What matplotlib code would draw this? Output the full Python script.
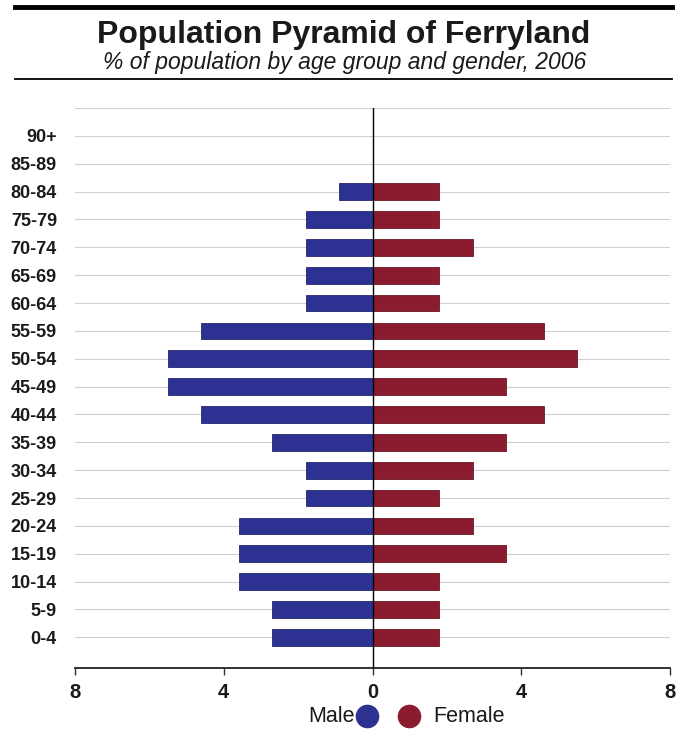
import matplotlib
matplotlib.use("Agg")
import matplotlib.pyplot as plt
from matplotlib.lines import Line2D
import numpy as np

plt.rcParams['font.family'] = ['Liberation Sans', 'DejaVu Sans']

age_groups = ["0-4", "5-9", "10-14", "15-19", "20-24", "25-29", "30-34", "35-39",
              "40-44", "45-49", "50-54", "55-59", "60-64", "65-69", "70-74",
              "75-79", "80-84", "85-89", "90+"]
male = [2.7, 2.7, 3.6, 3.6, 3.6, 1.8, 1.8, 2.7, 4.6, 5.5, 5.5, 4.6, 1.8, 1.8, 1.8, 1.8, 0.9, 0, 0]
female = [1.8, 1.8, 1.8, 3.6, 2.7, 1.8, 2.7, 3.6, 4.6, 3.6, 5.5, 4.6, 1.8, 1.8, 2.7, 1.8, 1.8, 0, 0]
x_ticks = [-8, -4, 0, 4, 8]
x_tick_labels = ["8", "4", "0", "4", "8"]

title = "Population Pyramid of Ferryland"
subtitle = "% of population by age group and gender, 2006"

blue = "#2d3191"
red = "#8b1c2f"

W, H = 683, 731
fig = plt.figure(figsize=(W / 100, H / 100), dpi=100)
fig.patch.set_facecolor("white")

ax = fig.add_axes([75 / W, 1 - 668 / H, (670 - 75) / W, (668 - 108) / H])
y = np.arange(len(age_groups))

# gridlines
for yy in list(y) + [len(age_groups)]:
    ax.axhline(yy, color="#cfcfcf", lw=0.8, zorder=0)

ax.barh(y, [-v for v in male], height=0.6, color=blue, edgecolor="#23266e", linewidth=0.6, zorder=2)
ax.barh(y, female, height=0.6, color=red, edgecolor="#6e1422", linewidth=0.6, zorder=2)
ax.axvline(0, color="black", lw=1.0, zorder=3)

ax.set_xlim(-8, 8)
ax.set_ylim(-1.1, len(age_groups))
ax.set_yticks(y)
ax.set_yticklabels(age_groups, fontsize=13, fontweight="bold", color="#1a1a1a")
ax.tick_params(axis="y", length=0, pad=13)
ax.set_xticks(x_ticks)
ax.set_xticklabels(x_tick_labels, fontsize=14.5, fontweight="bold", color="#1a1a1a")
ax.tick_params(axis="x", length=5, width=1, direction="out", pad=6, color="#333333")
for s in ["top", "right", "left"]:
    ax.spines[s].set_visible(False)
ax.spines["bottom"].set_color("#222222")
ax.spines["bottom"].set_linewidth(1.3)

# title block
fig.add_artist(Line2D([15 / W, 672 / W], [1 - 7 / H, 1 - 7 / H], color="black", lw=3.5))
fig.text(344 / W, 1 - 35 / H, title, ha="center", va="center", fontsize=23, fontweight="bold", color="#1a1a1a")
fig.text(345 / W, 1 - 63 / H, subtitle, ha="center", va="center", fontsize=16.5, style="italic", color="#1a1a1a")
fig.add_artist(Line2D([15 / W, 672 / W], [1 - 79 / H, 1 - 79 / H], color="black", lw=1.3))

# legend
ly = 1 - 716 / H
fig.text(355 / W, ly, "Male", ha="right", va="center", fontsize=15.5, color="#1a1a1a")
fig.add_artist(Line2D([367 / W], [ly], marker="o", markersize=16, color=blue, linestyle="none"))
fig.add_artist(Line2D([409 / W], [ly], marker="o", markersize=16, color=red, linestyle="none"))
fig.text(433 / W, ly, "Female", ha="left", va="center", fontsize=15.5, color="#1a1a1a")

fig.savefig("out.png", dpi=100, facecolor="white")
